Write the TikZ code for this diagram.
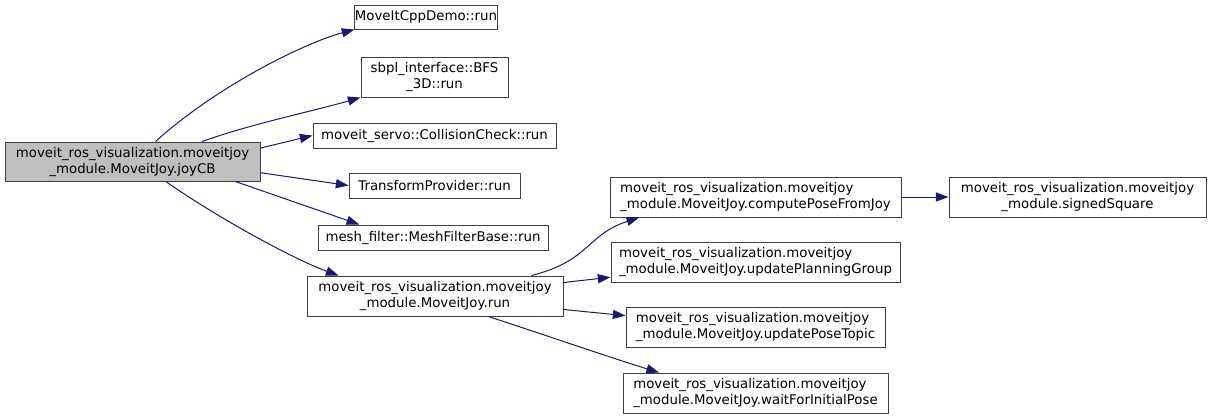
\documentclass[tikz,border=0pt]{standalone}
\usepackage{fontspec}
\setmainfont{DejaVu Sans}
\usetikzlibrary{arrows.meta}
\definecolor{edgeblue}{HTML}{191970}
\definecolor{boxline}{HTML}{404040}
\definecolor{rootfill}{HTML}{BFBFBF}
\tikzset{
  fnbox/.style={draw=boxline, line width=0.75pt, rectangle, inner sep=0pt,
    font=\fontsize{10}{12}\selectfont, text=black},
  rootbox/.style={fnbox, fill=rootfill},
  call/.style={draw=edgeblue, line width=0.75pt,
    -{Triangle[length=9.5pt,width=6.8pt,fill=edgeblue]}},
}
\begin{document}
\begin{tikzpicture}[x=0.75pt,y=-0.75pt]
\useasboundingbox (0,0) rectangle (1209,419);
\node[rootbox, minimum width=255*0.75pt, minimum height=39*0.75pt, align=center] (joy) at (132.5,161.5) {moveit\_ros\_visualization.moveitjoy\\\_module.MoveitJoy.joyCB};
\node[fnbox, minimum width=142*0.75pt, minimum height=24*0.75pt] (demo) at (426,17) {MoveItCppDemo::run};
\node[fnbox, minimum width=147*0.75pt, minimum height=40*0.75pt, align=center] (bfs) at (434.5,77) {sbpl\_interface::BFS\\\_3D::run};
\node[fnbox, minimum width=243*0.75pt, minimum height=25*0.75pt] (coll) at (434.5,135.5) {moveit\_servo::CollisionCheck::run};
\node[fnbox, minimum width=171*0.75pt, minimum height=25*0.75pt] (tf) at (434.5,185.5) {TransformProvider::run};
\node[fnbox, minimum width=230*0.75pt, minimum height=25*0.75pt] (mesh) at (433,237.5) {mesh\_filter::MeshFilterBase::run};
\node[fnbox, minimum width=256*0.75pt, minimum height=40*0.75pt, align=center] (run) at (435,296) {moveit\_ros\_visualization.moveitjoy\\\_module.MoveitJoy.run};
\node[fnbox, minimum width=291*0.75pt, minimum height=40*0.75pt, align=left] (cpj) at (755.5,197) {moveit\_ros\_visualization.moveitjoy\\\_module.MoveitJoy.computePoseFromJoy};
\node[fnbox, minimum width=289*0.75pt, minimum height=40*0.75pt, align=left] (upg) at (755.5,262) {moveit\_ros\_visualization.moveitjoy\\\_module.MoveitJoy.updatePlanningGroup};
\node[fnbox, minimum width=259*0.75pt, minimum height=40*0.75pt, align=left] (upt) at (755.5,327) {moveit\_ros\_visualization.moveitjoy\\\_module.MoveitJoy.updatePoseTopic};
\node[fnbox, minimum width=265*0.75pt, minimum height=40*0.75pt, align=left] (wfi) at (755.5,393) {moveit\_ros\_visualization.moveitjoy\\\_module.MoveitJoy.waitForInitialPose};
\node[fnbox, minimum width=257*0.75pt, minimum height=40*0.75pt, align=center] (ss) at (1077.5,197) {moveit\_ros\_visualization.moveitjoy\\\_module.signedSquare};

\draw[call] (joy.41) .. controls +(-42:85) and +(-195:50) .. (demo.south west);
\draw[call] (joy.16) .. controls +(-20:50) and +(-196:50) .. (bfs.south west);
\draw[call] (joy.6) -- (coll.west);
\draw[call] (joy.-5) -- (tf.west);
\draw[call] (joy.-11) -- (mesh.170);
\draw[call] (joy.-31) .. controls +(35:60) and +(-160:50) .. (run.168);
\draw[call] (run.12) .. controls +(-14:60) and +(-198:55) .. (cpj.190);
\draw[call] (run.6) -- (upg.186);
\draw[call] (run.-6) -- (upt.175);
\draw[call] (run.-21) .. controls +(18:50) and +(-163:50) .. (wfi.168);
\draw[call] (cpj.east) -- (ss.west);
\end{tikzpicture}
\end{document}
